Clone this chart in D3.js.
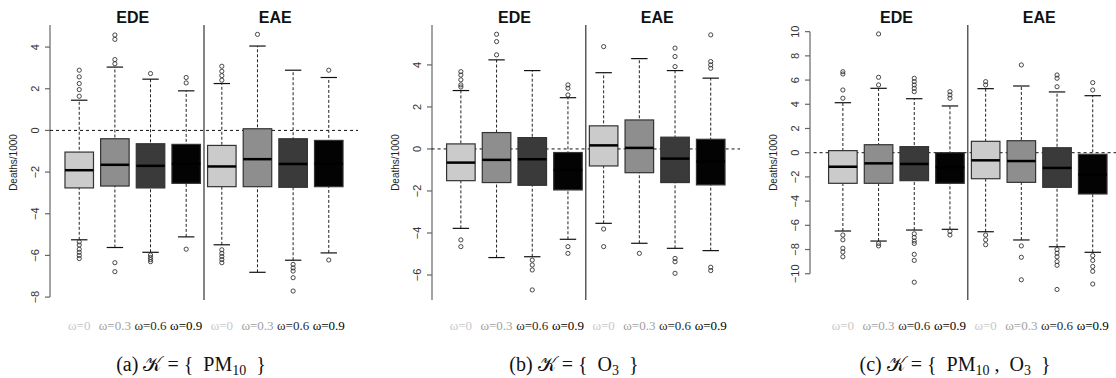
<!DOCTYPE html>
<html>
<head>
<meta charset="utf-8">
<script src="https://cdn.jsdelivr.net/npm/d3@7"></script>
<style>
  body { margin: 0; background: #fff; }
  svg { display: block; }
  .serif { font-family: "Liberation Serif", "Times New Roman", "DejaVu Serif", serif; }
  .sans { font-family: "Liberation Sans", Arial, sans-serif; }
</style>
</head>
<body>
<svg id="chart" width="1116" height="378"></svg>
<script>
// categories
const omegaLabels = ["ω=0", "ω=0.3", "ω=0.6", "ω=0.9", "ω=0", "ω=0.3", "ω=0.6", "ω=0.9"];
const groupTitles = ["EDE", "EAE"];
const yLabel = "Deaths/1000";

// box stats per panel: [lower whisker, q1, median, q3, upper whisker]
const statsA = [
  [-5.25, -2.76, -1.91, -1.04, 1.45],
  [-5.62, -2.67, -1.65, -0.40, 3.04],
  [-5.85, -2.76, -1.70, -0.64, 2.46],
  [-5.11, -2.54, -1.60, -0.67, 1.90],
  [-5.49, -2.70, -1.73, -0.72, 2.25],
  [-6.81, -2.70, -1.38, 0.08, 4.05],
  [-6.23, -2.73, -1.61, -0.40, 2.89],
  [-5.88, -2.70, -1.60, -0.48, 2.54]
];
const outliersA = [
  [1.64, 1.96, 2.25, 2.57, 2.89, -5.35, -5.5, -5.7, -5.85, -6.0, -6.15],
  [3.2, 3.4, 4.37, 4.58, -6.35, -6.78],
  [2.73, -5.98, -6.1, -6.2, -6.3],
  [2.28, 2.54, -5.70],
  [2.41, 2.63, 2.84, 3.08, -5.73, -5.9, -6.05, -6.2, -6.35],
  [4.61],
  [-6.43, -6.6, -6.75, -7.07, -7.71],
  [2.89, -6.22]
];

const statsB = [
  [-3.78, -1.51, -0.65, 0.24, 2.78],
  [-5.17, -1.60, -0.52, 0.78, 4.24],
  [-5.13, -1.73, -0.49, 0.54, 3.73],
  [-4.30, -1.95, -1.00, -0.17, 2.44],
  [-3.54, -0.81, 0.17, 1.10, 3.63],
  [-4.49, -1.13, 0.05, 1.38, 4.30],
  [-4.73, -1.60, -0.46, 0.56, 3.73],
  [-4.84, -1.71, -0.60, 0.46, 3.37]
];
const outliersB = [
  [2.95, 3.05, 3.29, 3.52, 3.68, -4.33, -4.65],
  [4.48, 5.11, 5.46],
  [-5.29, -5.52, -5.76, -6.71],
  [2.57, 2.89, 3.05, -4.65, -4.97],
  [4.87, -3.81, -4.65],
  [-4.97],
  [3.92, 4.40, 4.80, -5.21, -5.37, -5.92],
  [3.84, 4.0, 4.16, 5.43, -5.63, -5.79]
];

const statsC = [
  [-6.47, -2.53, -1.16, 0.17, 4.13],
  [-7.30, -2.53, -0.88, 0.66, 5.32],
  [-6.39, -2.31, -0.93, 0.50, 4.46],
  [-6.33, -2.53, -1.20, 0.00, 3.86],
  [-6.53, -2.15, -0.63, 0.94, 5.29],
  [-7.21, -2.45, -0.69, 0.99, 5.51],
  [-7.77, -2.86, -1.26, 0.41, 5.02],
  [-8.23, -3.41, -1.80, -0.13, 4.71]
];
const outliersC = [
  [4.5, 5.18, 6.5, 6.69, -6.8, -7.2, -7.9, -8.2, -8.6],
  [5.6, 6.23, 9.81, -7.5, -7.7],
  [5.04, 5.32, 5.6, 5.87, 6.15, -6.7, -7.0, -7.3, -7.5, -8.4, -8.9, -10.7],
  [4.5, 4.77, 5.04, -6.5, -6.8],
  [5.6, 5.87, -6.8, -7.2, -7.6],
  [7.25, -7.7, -8.64, -10.5],
  [5.45, 6.15, 6.42, -8.0, -8.3, -8.6, -9.0, -9.3, -11.3],
  [5.18, 5.79, -8.5, -8.9, -9.4, -9.8, -10.85]
];

const ticksA = [4, 2, 0, -2, -4, -6, -8];
const ticksB = [4, 2, 0, -2, -4, -6];
const ticksC = [10, 8, 6, 4, 2, 0, -2, -4, -6, -8, -10];

const captionTags = ["(a)", "(b)", "(c)"];
const captionSets = [["PM", "10"], ["O", "3"], ["PM", "10", "O", "3"]];

// layout / styles
const boxFill = ["#cbcbcb", "#8e8e8e", "#3a3a3a", "#030303"];
const labelFill = ["#c8c8c8", "#a0a0a0", "#2a2a2a", "#000"];

const panels = [
  { stats: statsA, out: outliersA, ticks: ticksA, yDom: [-8.14, 5.06], x0: 50, x1: 358, axisX: 50, axisLo: -8, axisHi: 5.06, cap: 191 },
  { stats: statsB, out: outliersB, ticks: ticksB, yDom: [-7.19, 5.90], x0: 431.6, x1: 740, axisX: 432, axisLo: -7.19, axisHi: 5.90, cap: 574 },
  { stats: statsC, out: outliersC, ticks: ticksC, yDom: [-12.17, 10.55], x0: 813.6, x1: 1122, axisX: 810, axisLo: -10, axisHi: 10, cap: 955 }
];

const plotTop = 25, plotBottom = 300;
const svg = d3.select("#chart");

panels.forEach((p, pi) => {
  const g = svg.append("g");
  const x = d3.scaleLinear().domain([0.18, 8.82]).range([p.x0, p.x1]);
  const y = d3.scaleLinear().domain(p.yDom).range([plotBottom, plotTop]);
  const bw = x(0.4) - x(0);
  const cw = x(0.23) - x(0);

  // y axis
  const ax = g.append("g").attr("transform", `translate(${p.axisX},0)`);
  ax.append("line")
    .attr("y1", y(p.axisHi)).attr("y2", y(p.axisLo))
    .attr("stroke", "#666").attr("stroke-width", 1.2);
  ax.selectAll("line.tick").data(p.ticks).enter().append("line")
    .attr("class", "tick")
    .attr("x1", -5).attr("x2", 0)
    .attr("y1", d => y(d)).attr("y2", d => y(d))
    .attr("stroke", "#666").attr("stroke-width", 1.2);
  ax.selectAll("text").data(p.ticks).enter().append("text")
    .attr("class", "sans")
    .attr("transform", d => `translate(-11,${y(d)}) rotate(-90)`)
    .attr("text-anchor", "middle")
    .attr("font-size", 11)
    .attr("fill", "#333")
    .text(d => d < 0 ? "\u2212" + Math.abs(d) : d);

  g.append("text")
    .attr("class", "sans")
    .attr("transform", `translate(${p.axisX - 33},${(plotTop + plotBottom) / 2}) rotate(-90)`)
    .attr("text-anchor", "middle")
    .attr("font-size", 10)
    .attr("fill", "#222")
    .text(yLabel);

  // separator + zero line
  g.append("line")
    .attr("x1", x(4.5)).attr("x2", x(4.5))
    .attr("y1", plotTop).attr("y2", plotBottom)
    .attr("stroke", "#333").attr("stroke-width", 1.2);
  g.append("line")
    .attr("x1", x(0.18)).attr("x2", x(8.82))
    .attr("y1", y(0)).attr("y2", y(0))
    .attr("stroke", "#111").attr("stroke-dasharray", "3,3");

  // group titles
  g.selectAll("text.title").data(groupTitles).enter().append("text")
    .attr("class", "title sans")
    .attr("x", (d, i) => x(2.5 + 4 * i)).attr("y", 23)
    .attr("text-anchor", "middle")
    .attr("font-weight", "bold")
    .attr("font-size", 16)
    .attr("fill", "#111")
    .text(d => d);

  // boxes
  const boxes = g.selectAll("g.box").data(p.stats).enter().append("g").attr("class", "box");
  boxes.append("line")
    .attr("x1", (d, i) => x(i + 1)).attr("x2", (d, i) => x(i + 1))
    .attr("y1", d => y(d[0])).attr("y2", d => y(d[4]))
    .attr("stroke", "#222").attr("stroke-dasharray", "3,2");
  [0, 4].forEach(k => {
    boxes.append("line")
      .attr("x1", (d, i) => x(i + 1) - cw).attr("x2", (d, i) => x(i + 1) + cw)
      .attr("y1", d => y(d[k])).attr("y2", d => y(d[k]))
      .attr("stroke", "#111").attr("stroke-width", 1.2);
  });
  boxes.append("rect")
    .attr("x", (d, i) => x(i + 1) - bw)
    .attr("width", 2 * bw)
    .attr("y", d => y(d[3]))
    .attr("height", d => y(d[1]) - y(d[3]))
    .attr("fill", (d, i) => boxFill[i % 4])
    .attr("stroke", "#333").attr("stroke-width", 1.2);
  boxes.append("line")
    .attr("x1", (d, i) => x(i + 1) - bw).attr("x2", (d, i) => x(i + 1) + bw)
    .attr("y1", d => y(d[2])).attr("y2", d => y(d[2]))
    .attr("stroke", "#000").attr("stroke-width", 2.5);

  // outliers
  p.out.forEach((vals, i) => {
    g.selectAll(null).data(vals).enter().append("circle")
      .attr("cx", x(i + 1)).attr("cy", d => y(d))
      .attr("r", 2.1)
      .attr("fill", "none").attr("stroke", "#333").attr("stroke-width", 0.9);
  });

  // omega labels
  g.selectAll("text.om").data(omegaLabels).enter().append("text")
    .attr("class", "om serif")
    .attr("x", (d, i) => x(i + 1)).attr("y", 330)
    .attr("text-anchor", "middle")
    .attr("font-size", 13)
    .attr("fill", (d, i) => labelFill[i % 4])
    .text(d => d);

  // caption
  const cap = g.append("text")
    .attr("class", "serif")
    .attr("x", p.cap).attr("y", 371)
    .attr("text-anchor", "middle")
    .attr("font-size", 20)
    .attr("fill", "#111")
    .attr("xml:space", "preserve");
  cap.append("tspan").text(captionTags[pi] + " ");
  cap.append("tspan").style("font-family", "'DejaVu Serif', serif").attr("font-size", 20).text("\u{1D4A6}");
  cap.append("tspan").text(" = {  ");
  const parts = captionSets[pi];
  for (let k = 0; k < parts.length; k += 2) {
    if (k > 0) cap.append("tspan").attr("dy", -4).text(" ,  ");
    cap.append("tspan").attr("dy", k > 0 ? 0 : null).text(parts[k]);
    cap.append("tspan").attr("font-size", 14).attr("dy", 4).text(parts[k + 1]);
  }
  cap.append("tspan").attr("dy", -4).text("  }");
});
</script>
</body>
</html>
